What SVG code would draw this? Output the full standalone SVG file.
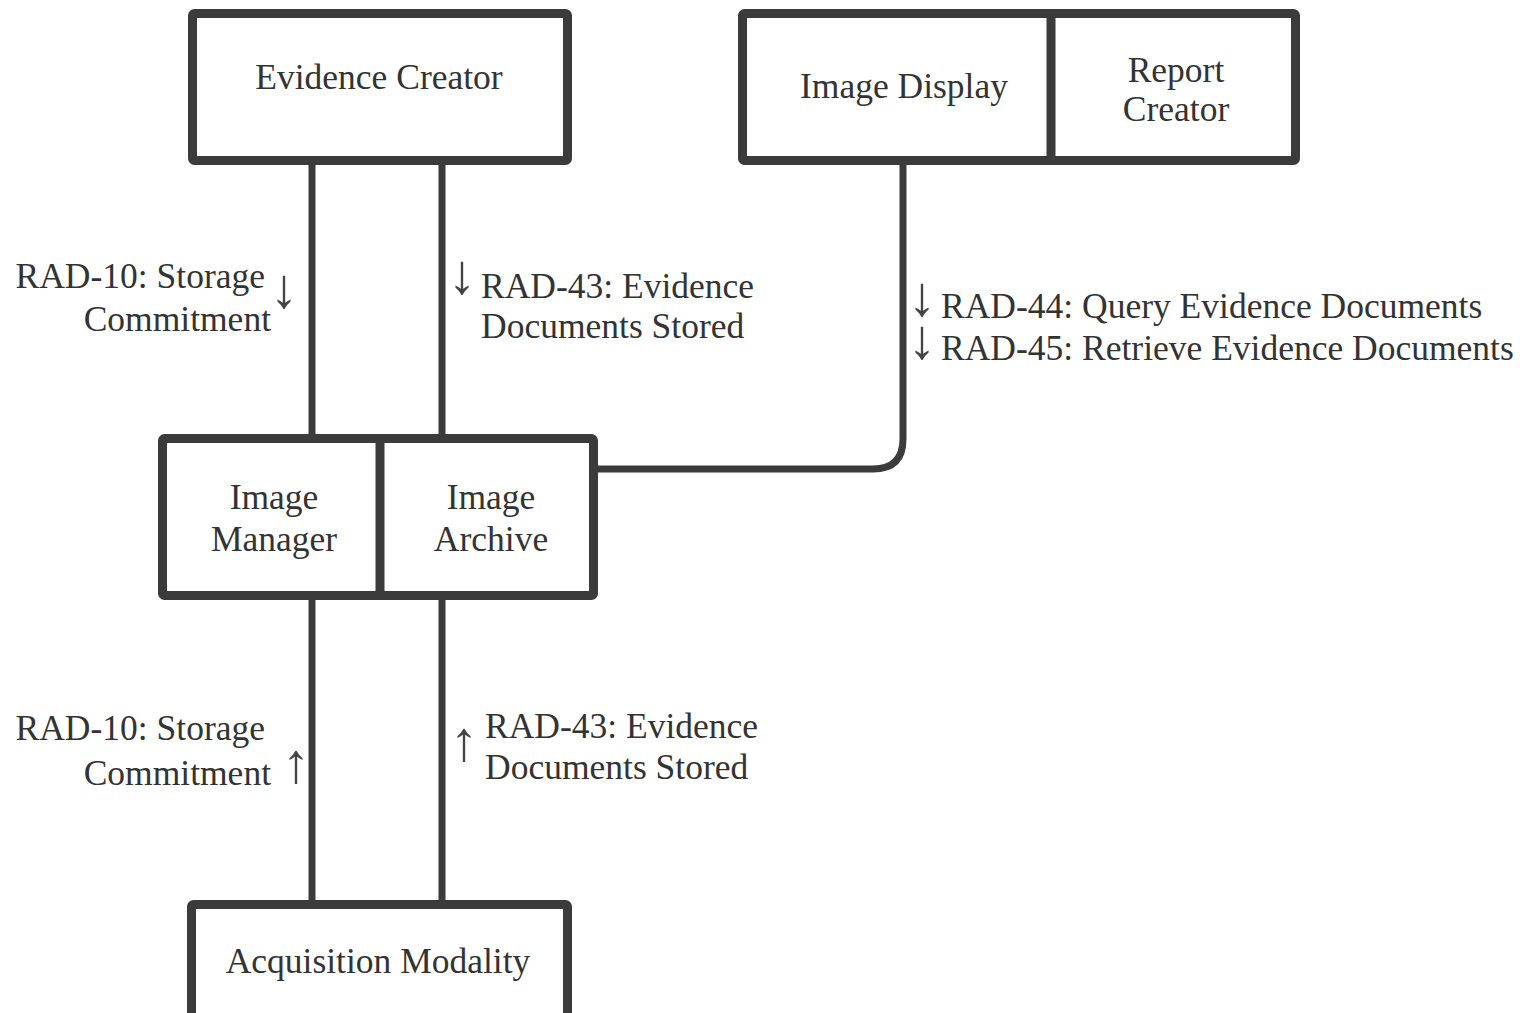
<svg xmlns="http://www.w3.org/2000/svg" width="1530" height="1013" viewBox="0 0 1530 1013">
<style>
.box{fill:#fff;stroke:#3b3b3b;stroke-width:9;stroke-linejoin:round}
.div{stroke:#3b3b3b;stroke-width:9}
.conn{fill:none;stroke:#3b3b3b;stroke-width:7}
text{font-family:"Liberation Serif","Times New Roman",serif;font-size:35.5px;fill:#333}
.c{text-anchor:middle}
.e{text-anchor:end}
.arr{font-size:56px;fill:#444}
</style>
<rect width="1530" height="1013" fill="#fff"/>
<g id="connectors">
<line class="conn" x1="312" y1="162" x2="312" y2="438"/>
<line class="conn" x1="442" y1="162" x2="442" y2="438"/>
<line class="conn" x1="312" y1="596" x2="312" y2="904"/>
<line class="conn" x1="442" y1="596" x2="442" y2="904"/>
<path class="conn" d="M594,469 H873 Q903,469 903,439 V162"/>
</g>
<g id="evidence-creator">
<rect class="box" x="192.5" y="13.5" width="375" height="147" rx="2"/>
<text class="c" x="379" y="89">Evidence Creator</text>
</g>
<g id="image-display-report-creator">
<rect class="box" x="742.5" y="13.5" width="553" height="147" rx="2"/>
<line class="div" x1="1051" y1="13" x2="1051" y2="161"/>
<g id="image-display"><text class="c" x="904" y="98">Image Display</text></g>
<g id="report-creator"><text class="c" x="1176" y="82">Report</text><text class="c" x="1176" y="121">Creator</text></g>
</g>
<g id="image-manager-archive">
<rect class="box" x="162.5" y="438.5" width="431" height="157" rx="2"/>
<line class="div" x1="380" y1="438" x2="380" y2="596"/>
<g id="image-manager"><text class="c" x="274" y="509">Image</text><text class="c" x="274" y="551">Manager</text></g>
<g id="image-archive"><text class="c" x="491" y="509">Image</text><text class="c" x="491" y="551">Archive</text></g>
</g>
<g id="acquisition-modality">
<rect class="box" x="191.5" y="904.5" width="376" height="140" rx="2"/>
<text class="c" x="378" y="973">Acquisition Modality</text>
</g>
<g id="labels">
<text class="e" x="265" y="288">RAD-10: Storage</text>
<text class="e" x="271" y="331">Commitment</text>
<text class="arr" x="270" y="307">↓</text>
<text class="arr" x="448" y="293">↓</text>
<text x="481" y="298">RAD-43: Evidence</text>
<text x="481" y="338">Documents Stored</text>
<text class="arr" x="908" y="315">↓</text>
<text x="941" y="318">RAD-44: Query Evidence Documents</text>
<text class="arr" x="908" y="358">↓</text>
<text x="941" y="360">RAD-45: Retrieve Evidence Documents</text>
<text class="e" x="265" y="740">RAD-10: Storage</text>
<text class="e" x="271" y="785">Commitment</text>
<text class="arr" x="282" y="782">↑</text>
<text class="arr" x="450" y="760">↑</text>
<text x="485" y="738">RAD-43: Evidence</text>
<text x="485" y="779">Documents Stored</text>
</g>
</svg>
